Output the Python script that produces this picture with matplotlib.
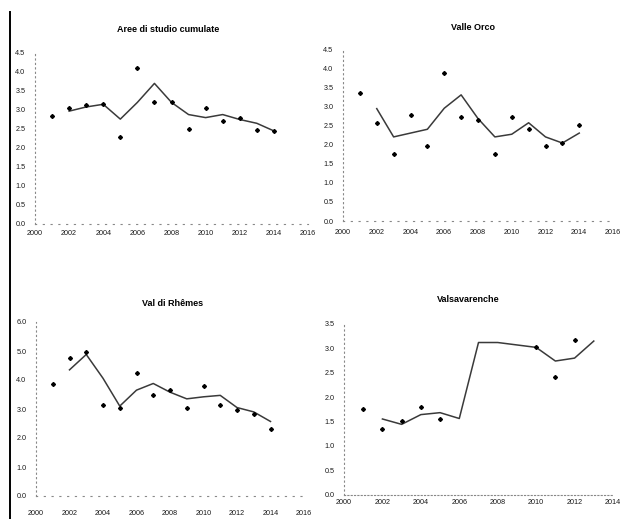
import matplotlib
matplotlib.use('Agg')
import matplotlib.pyplot as plt
from matplotlib.lines import Line2D

# Valori (punti = dati annuali, linea = media mobile)
anni = list(range(2001, 2015))

aree_pti = [2.85, 3.05, 3.13, 3.15, 2.3, 4.1, 3.2, 3.2, 2.5, 3.05, 2.7, 2.78, 2.47, 2.45]
aree_trend = [2.97, 3.08, 3.15, 2.76, 3.2, 3.7, 3.2, 2.88, 2.8, 2.88, 2.75, 2.65, 2.45]

orco_pti = [3.35, 2.57, 1.76, 2.78, 1.97, 3.86, 2.73, 2.63, 1.74, 2.73, 2.4, 1.97, 2.05, 2.52]
orco_trend = [2.94, 2.2, 2.3, 2.4, 2.95, 3.3, 2.68, 2.2, 2.27, 2.57, 2.2, 2.04, 2.3]

rhemes_pti = [3.85, 4.75, 4.97, 3.15, 3.05, 4.25, 3.5, 3.65, 3.05, 3.8, 3.13, 2.98, 2.84, 2.3]
rhemes_trend = [4.35, 4.88, 4.06, 3.1, 3.65, 3.88, 3.58, 3.35, 3.42, 3.47, 3.05, 2.9, 2.57]

valsa_anni = [2001, 2002, 2003, 2004, 2005, 2010, 2011, 2012]
valsa_pti = [1.75, 1.35, 1.5, 1.8, 1.54, 3.03, 2.42, 3.17]
valsa_anni_trend = [2002, 2003, 2004, 2005, 2006, 2007, 2008, 2010, 2011, 2012, 2013]
valsa_trend = [1.55, 1.44, 1.64, 1.68, 1.56, 3.12, 3.12, 3.02, 2.74, 2.8, 3.15]

W, H = 622, 519
fig = plt.figure(figsize=(W / 100, H / 100), dpi=100)
plt.rcParams['font.family'] = ['Liberation Sans', 'DejaVu Sans']


def pannello(x0, x1, y0, y1, xlim, ylim, yticks, xticks, titolo, tx0, ty0,
             px, py, tx, ty_trend, xpad=4, dens=False):
    # x0..x1, y0..y1 in pixel dell'immagine (y dall'alto)
    ax = fig.add_axes([x0 / W, 1 - y0 / H, (x1 - x0) / W, (y0 - y1) / H])
    ax.set_xlim(xlim)
    ax.set_ylim(ylim)
    ax.plot(tx, ty_trend, color='#3a3a3a', lw=1.1, zorder=2)
    ax.plot(px, py, 'D', color='black', ms=2.0, zorder=3)
    ax.set_xticks(xticks)
    ax.set_yticks(yticks)
    ax.set_yticklabels(['%.1f' % v for v in yticks])
    ax.tick_params(length=0, labelsize=5.2, colors='#1a1a1a')
    ax.tick_params(axis='y', pad=7)
    ax.tick_params(axis='x', pad=xpad)
    for s in ['top', 'right']:
        ax.spines[s].set_visible(False)
    ax.spines['left'].set_linestyle((0, (1, 3)))
    ax.spines['left'].set_color('#888888')
    ax.spines['left'].set_linewidth(0.8)
    ax.spines['bottom'].set_linestyle((0, (1, 2)) if dens else (0, (1, 6)))
    ax.spines['bottom'].set_color('#888888')
    ax.spines['bottom'].set_linewidth(0.8)
    ax.patch.set_alpha(0)
    fig.text(tx0 / W, 1 - ty0 / H, titolo, ha='center', va='center',
             fontsize=6.5, fontweight='bold')
    return ax


pannello(35, 308, 224, 53, (2000, 2016), (0, 4.5), [i * 0.5 for i in range(10)],
         range(2000, 2017, 2), 'Aree di studio cumulate', 168, 30,
         anni, aree_pti, anni[1:], aree_trend, xpad=4)

pannello(343, 613, 221, 49, (2000, 2016), (0, 4.5), [i * 0.5 for i in range(10)],
         range(2000, 2017, 2), 'Valle Orco', 473, 28,
         anni, orco_pti, anni[1:], orco_trend, xpad=6)

pannello(36, 304, 496, 322, (2000, 2016), (0, 6), [float(i) for i in range(7)],
         range(2000, 2017, 2), 'Val di Rhêmes', 173, 303,
         anni, rhemes_pti, anni[1:], rhemes_trend, xpad=10)

pannello(344, 613, 494.5, 324, (2000, 2014), (0, 3.5), [i * 0.5 for i in range(8)],
         range(2000, 2015, 2), 'Valsavarenche', 468, 300,
         valsa_anni, valsa_pti, valsa_anni_trend, valsa_trend, xpad=3, dens=True)

# bordo sinistro della scansione
fig.add_artist(Line2D([10 / W, 10 / W], [0, 1 - 12 / H], color='black', lw=1.4))

fig.savefig('out.png', dpi=100)
